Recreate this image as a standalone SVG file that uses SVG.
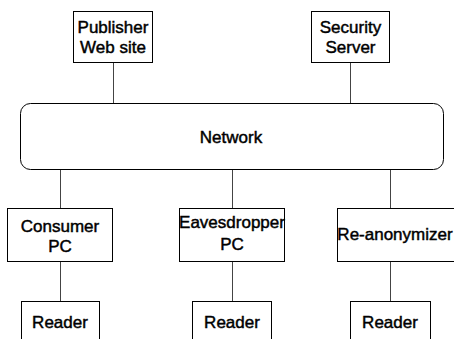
<svg xmlns="http://www.w3.org/2000/svg" width="454" height="339" viewBox="0 0 454 339">
<style>
.box{fill:#fff;stroke:#000;stroke-width:1}
.lbl{font-family:"Liberation Sans",Arial,sans-serif;font-size:17px;fill:#000;stroke:#000;stroke-width:0.45px;text-anchor:middle}
.con line{stroke:#444;stroke-width:1}
</style>
<rect width="454" height="339" fill="#fff"/>
<g class="con" id="connectors">
<line x1="113.5" y1="62" x2="113.5" y2="103"/>
<line x1="350.5" y1="62" x2="350.5" y2="103"/>
<line x1="60.5" y1="169" x2="60.5" y2="209"/>
<line x1="232.5" y1="169" x2="232.5" y2="209"/>
<line x1="390.5" y1="169" x2="390.5" y2="209"/>
<line x1="60.5" y1="262" x2="60.5" y2="301"/>
<line x1="232.5" y1="262" x2="232.5" y2="301"/>
<line x1="390.5" y1="262" x2="390.5" y2="301"/>
</g>
<g id="publisher"><rect class="box" x="73.5" y="11.5" width="79" height="51"/><text class="lbl" x="113" y="33">Publisher</text><text class="lbl" x="113" y="53">Web site</text></g>
<g id="security"><rect class="box" x="311.5" y="11.5" width="78" height="51"/><text class="lbl" x="350.5" y="33">Security</text><text class="lbl" x="350.5" y="53">Server</text></g>
<g id="network"><rect class="box" x="20.5" y="103.5" width="423" height="66" rx="10" ry="10"/><text class="lbl" x="231" y="143">Network</text></g>
<g id="consumer"><rect class="box" x="7.5" y="208.5" width="105" height="53"/><text class="lbl" x="60" y="232">Consumer</text><text class="lbl" x="60" y="252">PC</text></g>
<g id="eavesdropper"><rect class="box" x="179.5" y="208.5" width="105" height="53"/><text class="lbl" x="232" y="228">Eavesdropper</text><text class="lbl" x="232" y="250">PC</text></g>
<g id="reanonymizer"><rect class="box" x="337.5" y="208.5" width="122" height="53"/><text class="lbl" x="395" y="240">Re-anonymizer</text></g>
<g id="reader1"><rect class="box" x="21.5" y="301.5" width="78" height="50"/><text class="lbl" x="60" y="328">Reader</text></g>
<g id="reader2"><rect class="box" x="192.5" y="301.5" width="79" height="50"/><text class="lbl" x="232" y="328">Reader</text></g>
<g id="reader3"><rect class="box" x="350.5" y="301.5" width="80" height="50"/><text class="lbl" x="390" y="328">Reader</text></g>
</svg>
